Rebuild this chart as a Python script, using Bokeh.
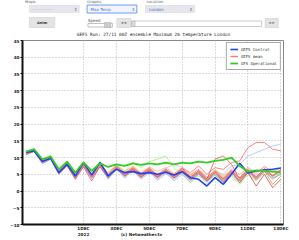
from bokeh.plotting import figure
from bokeh.models import Range1d, FixedTicker, Legend, LegendItem
from bokeh.layouts import column
from bokeh.core.properties import value
from bokeh.embed import file_html
from bokeh.resources import INLINE

# ---------------- data ----------------
days = [-3.5, -3.0, -2.5, -2.0, -1.5, -1.0, -0.5, 0.0, 0.5, 1.0, 1.5, 2.0, 2.5, 3.0, 3.5, 4.0,
        4.5, 5.0, 5.5, 6.0, 6.5, 7.0, 7.5, 8.0, 8.5, 9.0, 9.5, 10.0, 10.5, 11.0, 11.5, 12.0]

tick_days = [0, 2, 4, 6, 8, 10, 12]
tick_labels = ["1DEC\n2022", "3DEC", "5DEC", "7DEC", "9DEC", "11DEC", "13DEC"]
y_ticks = [-10, -5, 0, 5, 10, 15, 20, 25, 30, 35, 40, 45]
credit_day = 3.53
credit_text = "(c) Netweather.tv"

gefs_mean = [11.3, 12.2, 9.0, 10.2, 5.8, 8.2, 4.5, 8.0, 4.3, 7.8, 4.5, 7.2, 5.0, 6.8, 4.8, 6.5,
             4.6, 6.3, 4.3, 6.2, 3.8, 5.8, 3.5, 5.8, 3.6, 6.0, 3.8, 6.3, 4.2, 6.5, 4.6, 6.2]
gefs_control = [11.5, 12.0, 8.8, 9.8, 5.5, 8.0, 4.5, 8.5, 4.8, 8.6, 4.5, 6.5, 5.5, 5.8, 5.2, 5.5,
                5.0, 5.6, 4.8, 5.8, 4.0, 3.5, 1.5, 4.0, 2.0, 5.0, 8.3, 5.4, 6.0, 6.3, 6.5, 6.9]
gfs_oper = [11.8, 12.5, 9.5, 10.3, 6.5, 8.8, 5.5, 8.6, 6.0, 8.3, 7.2, 8.0, 7.5, 8.3, 7.8, 8.3,
            8.0, 8.5, 8.0, 8.5, 8.3, 8.8, 8.5, 9.0, 9.3, 10.0, 7.5, 5.8, 6.2, 6.0, 5.8, 5.6]

members = [
    [11.0, 12.0, 8.5, 9.8, 5.2, 7.8, 4.0, 8.4, 4.6, 8.0, 5.0, 7.5, 5.5, 7.0, 5.2, 6.8,
     4.5, 6.5, 5.0, 7.0, 5.5, 7.5, 5.0, 7.0, 6.5, 8.5, 9.0, 13.0, 14.5, 14.5, 12.5, 12.0],
    [11.5, 12.4, 9.2, 10.0, 6.0, 8.4, 4.8, 7.8, 4.0, 7.5, 3.8, 6.8, 4.2, 6.2, 4.0, 6.0,
     3.5, 5.5, 3.0, 5.0, 2.5, 5.0, 3.0, 6.0, 5.0, 7.5, 8.0, 10.5, 11.5, 12.5, 13.5, 14.0],
    [11.8, 12.6, 9.5, 10.5, 6.2, 9.0, 5.2, 8.6, 5.0, 8.2, 5.5, 7.8, 5.8, 7.5, 5.5, 7.2,
     5.8, 7.0, 5.2, 6.8, 4.8, 6.5, 4.0, 6.2, 4.5, 6.5, 5.0, 7.0, 5.5, 7.2, 6.0, 6.8],
    [11.2, 12.0, 8.8, 9.6, 5.5, 8.0, 4.8, 7.5, 4.5, 7.8, 4.2, 7.0, 5.2, 6.5, 5.0, 6.8,
     4.8, 6.0, 4.0, 5.8, 4.5, 6.0, 3.8, 6.5, 4.0, 6.2, 3.5, 5.8, 4.0, 6.0, 4.5, 5.5],
    [10.9, 11.8, 8.2, 9.5, 5.0, 7.5, 3.8, 7.5, 3.8, 7.2, 4.0, 6.8, 4.5, 6.5, 4.2, 6.0,
     4.0, 5.8, 3.8, 5.5, 3.2, 5.2, 2.8, 5.0, 2.5, 5.5, 3.0, 5.8, 3.5, 6.2, 3.8, 5.0],
    [11.4, 12.3, 9.3, 10.4, 6.0, 8.5, 5.0, 8.2, 4.8, 8.0, 5.2, 7.5, 5.0, 7.2, 5.2, 7.0,
     5.0, 6.8, 8.0, 7.2, 5.0, 6.5, 4.2, 6.0, 3.8, 6.5, 4.0, 7.0, 5.0, 7.5, 5.5, 7.0],
    [11.6, 12.5, 9.6, 10.6, 6.5, 8.8, 5.5, 8.4, 5.2, 8.0, 5.5, 7.8, 6.0, 8.5, 7.0, 8.8,
     9.5, 10.5, 7.0, 5.0, 2.5, 4.5, 3.0, 5.0, 2.5, 4.5, 2.0, 4.8, 3.0, 5.5, 4.0, 5.5],
    [11.0, 11.9, 8.6, 9.7, 5.4, 7.9, 4.2, 7.6, 4.0, 7.4, 3.5, 6.5, 3.8, 6.0, 3.5, 5.5,
     3.2, 5.2, 3.5, 5.5, 3.0, 5.0, 2.2, 4.8, 1.8, 5.0, 2.5, 5.5, 3.2, 5.8, 3.5, 5.2],
    [11.2, 12.1, 8.9, 10.0, 5.6, 8.1, 4.4, 7.9, 4.2, 7.6, 4.6, 7.0, 4.8, 6.6, 4.5, 6.2,
     4.2, 6.0, 4.0, 5.8, 3.5, 5.5, 3.0, 5.5, 2.8, 5.8, 2.5, 5.5, 1.5, 5.0, 1.0, 3.5],
    [11.3, 12.2, 9.1, 10.3, 6.0, 8.3, 4.6, 8.1, 4.4, 7.9, 4.8, 7.4, 5.0, 7.0, 5.0, 6.8,
     4.5, 6.2, 4.6, 6.5, 4.2, 6.2, 3.8, 6.0, 3.2, 5.5, 3.0, 6.0, 3.5, 6.0, 2.0, 4.5],
    [11.5, 12.2, 8.9, 9.9, 5.7, 8.3, 4.7, 8.0, 4.5, 7.6, 4.3, 7.0, 4.8, 6.8, 4.6, 6.5,
     4.8, 6.6, 4.2, 6.0, 3.6, 5.6, 3.3, 5.6, 3.4, 5.8, 3.6, 6.0, 4.0, 6.3, 4.4, 6.0],
    [11.1, 11.9, 8.7, 9.9, 5.5, 7.7, 3.5, 7.2, 3.0, 7.4, 4.0, 7.0, 4.5, 6.4, 4.0, 6.0,
     4.0, 6.2, 4.5, 6.8, 4.2, 6.0, 3.5, 9.5, 10.5, 8.0, 3.5, 6.5, 4.0, 6.8, 4.5, 6.5],
]
member_colors = ["#ff5555", "#99bbff", "#ffaa55", "#e0d040", "#9966cc", "#ff99cc",
                 "#99ee66", "#aabbdd", "#cc3333", "#dd8844", "#66cccc", "#ee4444"]

series_names = ["GEFS Control", "GEFS mean", "GFS Operational"]

FONT = "DejaVu Sans"
MONO = "DejaVu Sans Mono"

# ---------------- header (form controls) ----------------
hdr = figure(width=299, height=37, x_range=Range1d(0, 299), y_range=Range1d(37, 0),
             toolbar_location=None, output_backend="svg", x_axis_type=None, y_axis_type=None,
             min_border=0, min_border_left=0, min_border_right=0, min_border_top=0,
             min_border_bottom=0)
hdr.grid.visible = False
hdr.outline_line_color = None

hdr.text(x=[3, 74, 142], y=[0.5, 0.5, 0.5], text=["Maps", "Graphs", "Location"],
         text_font=value(FONT), text_font_size="4px", text_color="#666666",
         text_baseline="middle")
hdr.quad(left=[8, 141], right=[65, 197], top=[5, 5], bottom=[12, 12],
         fill_color="#e6e6ec", line_color="#d8d8e0", line_width=0.6)
hdr.quad(left=[74], right=[131], top=[4.5], bottom=[12.5],
         fill_color="#f2f5ff", line_color="#6d9ef0", line_width=1)
hdr.text(x=[11, 78, 145], y=[8.5, 8.5, 8.5], text=["—————", "Max Temp", "London"],
         text_font=value(FONT), text_font_size="4px",
         text_color=["#aab0c8", "#4a70c8", "#4a70c8"], text_baseline="middle")
hdr.text(x=[61, 127, 193], y=[8.5, 8.5, 8.5], text=["⇕", "⇕", "⇕"],
         text_font=value(FONT), text_font_size="4.5px", text_color="#6677aa",
         text_align="center", text_baseline="middle")
hdr.quad(left=[8, 108, 278], right=[37, 124, 293], top=[17, 18, 18], bottom=[27, 27, 27],
         fill_color="#e4e4e4", line_color="#d0d0d0", line_width=0.6)
hdr.text(x=[22.5, 116, 285.5], y=[22, 22.5, 22.5], text=["Anim", "<<", ">>"],
         text_font=value(FONT), text_font_size="3.6px", text_color="#333333",
         text_align="center", text_baseline="middle", text_font_style="bold")
hdr.text(x=[75], y=[20], text=["Speed"], text_font=value(FONT), text_font_size="4px",
         text_color="#555555", text_baseline="middle")
hdr.quad(left=[75], right=[103], top=[23], bottom=[26.5], fill_color="#ffffff",
         line_color="#999999", line_width=0.6)
hdr.quad(left=[94], right=[101], top=[22], bottom=[27], fill_color="#cccccc",
         line_color="#aaaaaa", line_width=0.5)
hdr.quad(left=[125], right=[274], top=[20.5], bottom=[26], fill_color="#ffffff",
         line_color="#aaaaaa", line_width=0.6)
hdr.quad(left=[125], right=[129], top=[20.5], bottom=[26], fill_color="#dddddd",
         line_color="#aaaaaa", line_width=0.5)
hdr.text(x=[150], y=[33.5], text=["GEFS Run: 27/11 00Z ensemble Maximum 2m temperature London"],
         text_font=value(MONO), text_font_size="4.4px", text_color="#222222",
         text_align="center", text_baseline="middle")

# ---------------- main chart ----------------
p = figure(width=299, height=203, x_range=Range1d(-3.71, 12.16), y_range=Range1d(-10, 45),
           toolbar_location=None, output_backend="svg",
           min_border_left=22, min_border_right=16, min_border_top=3, min_border_bottom=16)
p.outline_line_color = "#888888"
p.outline_line_width = 1

for vals, col in zip(members, member_colors):
    p.line(days, vals, line_color=col, line_width=0.8, line_alpha=0.9)

r_mean = p.line(days, gefs_mean, line_color="#f08080", line_width=1.4)
r_ctrl = p.line(days, gefs_control, line_color="#2244ee", line_width=1.6)
r_op = p.line(days, gfs_oper, line_color="#33cc22", line_width=1.8)

# x axis: date ticks plus the credit line written beside "2022"
overrides = {d: l for d, l in zip(tick_days, tick_labels)}
overrides[credit_day] = "\n" + credit_text
p.xaxis.ticker = FixedTicker(ticks=tick_days + [credit_day])
p.xaxis.major_label_overrides = overrides
p.xgrid.ticker = FixedTicker(ticks=tick_days)
p.yaxis.ticker = FixedTicker(ticks=y_ticks)
for ax in (p.xaxis[0], p.yaxis[0]):
    ax.axis_line_color = "#111111"
    ax.axis_line_width = 2
    ax.major_tick_in = 0
    ax.major_tick_out = 2
    ax.minor_tick_out = 0
    ax.minor_tick_in = 0
    ax.major_label_text_font = FONT
    ax.major_label_text_font_size = "4.2px"
    ax.major_label_text_font_style = "bold"
    ax.major_label_text_color = "#222222"
    ax.major_label_standoff = 1
p.xaxis.major_tick_out = 0
p.xgrid.grid_line_color = "#bbbbbb"
p.ygrid.grid_line_color = "#bbbbbb"
p.xgrid.grid_line_dash = "1 2"
p.ygrid.grid_line_dash = "1 2"

legend = Legend(items=[LegendItem(label=series_names[0], renderers=[r_ctrl]),
                       LegendItem(label=series_names[1], renderers=[r_mean]),
                       LegendItem(label=series_names[2], renderers=[r_op])],
                location="top_right")
legend.label_text_font = MONO
legend.label_text_font_size = "4px"
legend.label_text_color = "#333333"
legend.glyph_width = 8
legend.glyph_height = 6
legend.label_height = 6
legend.spacing = 1
legend.padding = 3
legend.margin = 2
legend.label_standoff = 3
legend.border_line_color = "#555555"
legend.border_line_width = 1.5
legend.background_fill_alpha = 1
p.add_layout(legend)

layout = column(hdr, p, spacing=0)
open("out.html", "w").write(file_html(layout, INLINE))
